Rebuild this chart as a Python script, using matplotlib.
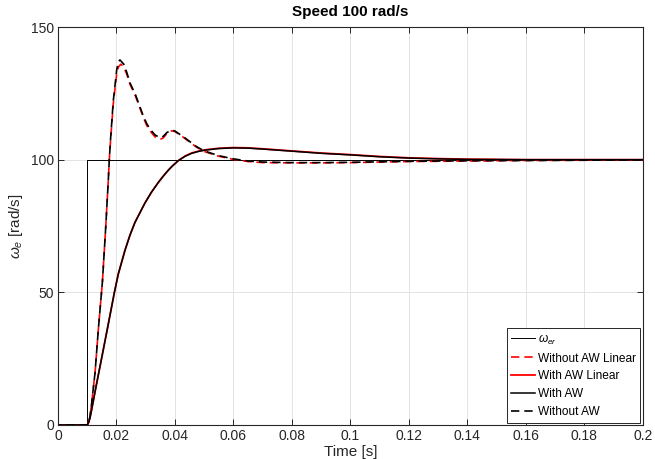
import matplotlib
matplotlib.use("Agg")
import matplotlib.pyplot as plt

plt.rcParams['font.family'] = ['Liberation Sans', 'DejaVu Sans']
plt.rcParams['mathtext.fontset'] = 'custom'
plt.rcParams['mathtext.rm'] = 'Liberation Sans'
plt.rcParams['mathtext.it'] = 'Liberation Sans:italic'

# reference speed step
t_ref = [0, 0.01, 0.01, 0.2]
w_ref = [0, 0, 100, 100]

# without anti-windup (black dashed)
t_noaw = [0, 0.01, 0.0105, 0.011, 0.0115, 0.0127, 0.0138, 0.0152, 0.0163, 0.0172, 0.01755,
          0.018, 0.0189, 0.0201, 0.0207, 0.0212, 0.0225, 0.0235, 0.0246, 0.0265, 0.028,
          0.029, 0.0303, 0.0315, 0.0332, 0.0349, 0.036, 0.0372, 0.0389, 0.040, 0.0428,
          0.0474, 0.05, 0.055, 0.06, 0.065, 0.07, 0.08, 0.09, 0.1, 0.11, 0.12, 0.14,
          0.16, 0.18, 0.2]
w_noaw = [0, 0, 1, 3.5, 8, 20, 36, 54, 74, 92, 100,
          108, 122, 134, 137, 137.6, 136, 133, 129, 124.5, 120,
          117, 113.7, 111.5, 109.3, 108.3, 108.8, 110.2, 111.2, 110.8, 108.7,
          104.9, 103.3, 101.5, 100.3, 99.5, 99.1, 98.9, 98.9, 99.0, 99.2, 99.4, 99.6,
          99.7, 99.8, 99.9]

# without anti-windup, linear model (red dashed)
t_noaw_lin = [0, 0.01, 0.0105, 0.011, 0.0115, 0.0127, 0.0138, 0.0152, 0.0163, 0.0172, 0.01755,
              0.018, 0.0189, 0.0201, 0.0207, 0.0215, 0.0225, 0.0235, 0.0246, 0.0265, 0.028,
              0.029, 0.0303, 0.0315, 0.0332, 0.0349, 0.036, 0.0372, 0.0389, 0.040, 0.0428,
              0.0474, 0.05, 0.055, 0.06, 0.065, 0.07, 0.08, 0.09, 0.1, 0.11, 0.12, 0.14,
              0.16, 0.18, 0.2]
w_noaw_lin = [0, 0, 1, 3.5, 8, 20, 36, 54, 74, 92, 100,
              107.5, 121, 132.5, 135, 136, 135, 132.3, 128.5, 124, 119.5,
              116.5, 113, 110.8, 108.6, 107.6, 108.2, 109.8, 110.9, 110.6, 108.5,
              104.7, 103.1, 101.3, 100.1, 99.3, 98.9, 98.8, 98.8, 98.9, 99.1, 99.3, 99.5,
              99.7, 99.8, 99.9]

# with anti-windup (black solid)
t_aw = [0, 0.01, 0.0105, 0.011, 0.0115, 0.0125, 0.0132, 0.0149, 0.0172, 0.0193, 0.0206,
        0.0229, 0.0246, 0.0263, 0.0297, 0.032, 0.0343, 0.036, 0.0377, 0.039, 0.0411,
        0.0435, 0.0457, 0.048, 0.0503, 0.055, 0.06, 0.065, 0.07, 0.08, 0.09, 0.1,
        0.11, 0.12, 0.13, 0.14, 0.16, 0.18, 0.2]
w_aw = [0, 0, 1, 3, 5.7, 11.5, 15.5, 25, 38, 50, 56.8,
        65.8, 71.5, 76.3, 83.6, 87.8, 91.4, 93.8, 96, 97.5, 99.6,
        101.3, 102.4, 103.1, 103.6, 104.2, 104.45, 104.35, 104.0, 103.2, 102.4, 101.8,
        101.1, 100.6, 100.3, 100.1, 100.0, 100.0, 100.0]

# with anti-windup, linear model (red solid)
t_aw_lin = t_aw
w_aw_lin = [0, 0, 1, 3, 5.7, 11.5, 15.5, 25, 38, 50, 56.8,
            65.8, 71.5, 76.3, 83.6, 87.8, 91.4, 93.8, 96, 97.5, 99.6,
            101.4, 102.5, 103.2, 103.7, 104.3, 104.55, 104.45, 104.1, 103.3, 102.5, 101.9,
            101.2, 100.7, 100.4, 100.2, 100.0, 100.0, 100.0]

xticks = [0, 0.02, 0.04, 0.06, 0.08, 0.1, 0.12, 0.14, 0.16, 0.18, 0.2]
xticklabels = ['0', '0.02', '0.04', '0.06', '0.08', '0.1', '0.12', '0.14', '0.16', '0.18', '0.2']
yticks = [0, 50, 100, 150]

fig = plt.figure(figsize=(6.55, 4.59), dpi=100)
ax = fig.add_axes([0.0885, 0.0741, 0.893, 0.867])

dash = (0, (5, 3))
ax.plot(t_ref, w_ref, color='black', lw=0.7, label=r'$\omega_{er}$')
ax.plot(t_noaw_lin, w_noaw_lin, color='red', lw=1.2, linestyle=dash, label='Without AW Linear')
ax.plot(t_aw_lin, w_aw_lin, color='red', lw=1.3, label='With AW Linear')
ax.plot(t_aw, w_aw, color='black', lw=1.1, label='With AW')
noaw_line, = ax.plot(t_noaw, w_noaw, color='black', lw=1.2, linestyle=dash, label='Without AW')

ax.set_xlim(0, 0.2)
ax.set_ylim(0, 150)
ax.set_xticks(xticks)
ax.set_xticklabels(xticklabels)
ax.set_yticks(yticks)
ax.grid(True, color='#e3e3e3', lw=0.7)
ax.set_axisbelow(True)
ax.tick_params(direction='in', top=True, right=True, length=4, width=0.7,
               colors='#262626', labelsize=10, pad=3)
for s in ax.spines.values():
    s.set_color('#262626')
    s.set_linewidth(0.8)

ax.set_title('Speed 100 rad/s', fontsize=11, fontweight='bold', pad=8)
ax.set_xlabel('Time [s]', fontsize=11, labelpad=1, color='#262626')
ax.set_ylabel(r'$\omega_e$ [rad/s]', fontsize=11, labelpad=4, color='#262626')

leg = ax.legend(loc='lower right', fontsize=8.6, handlelength=2.0, handletextpad=0.3,
                borderpad=0.35, labelspacing=0.5, fancybox=False, framealpha=1,
                edgecolor='#262626', borderaxespad=0.2)
leg.get_frame().set_linewidth(0.7)

# shift black dashes so the red dashes show between them (legend keeps plain dashes)
noaw_line.set_linestyle((3, (5, 3)))

fig.savefig('out.png', dpi=100)
